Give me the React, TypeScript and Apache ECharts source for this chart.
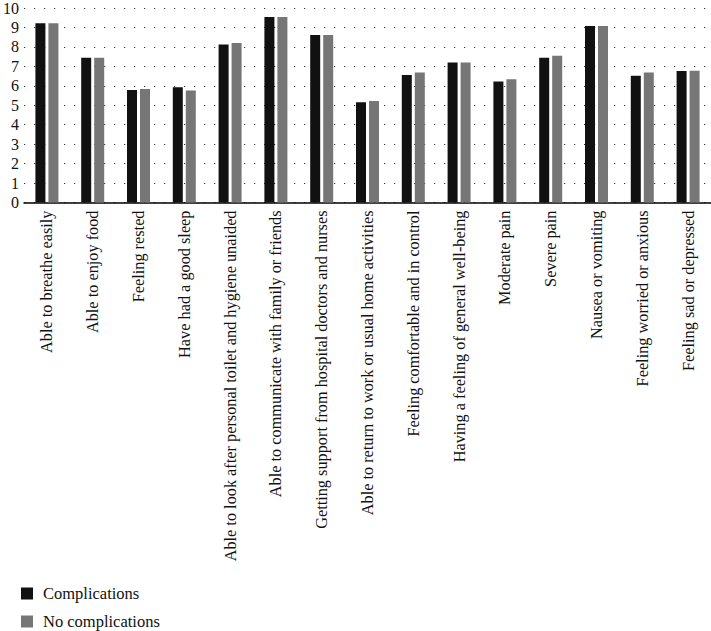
import React, { useEffect, useRef } from "react";
import * as echarts from "echarts";

const categories = [
  "Able to breathe easily",
  "Able to enjoy food",
  "Feeling rested",
  "Have had a good sleep",
  "Able to look after personal toilet and hygiene unaided",
  "Able to communicate with family or friends",
  "Getting support from hospital doctors and nurses",
  "Able to return to work or usual home activities",
  "Feeling comfortable and in control",
  "Having a feeling of general well-being",
  "Moderate pain",
  "Severe pain",
  "Nausea or vomiting",
  "Feeling worried or anxious",
  "Feeling sad or depressed",
];

const complications = [9.22, 7.44, 5.78, 5.93, 8.12, 9.54, 8.61, 5.15, 6.56, 7.2, 6.22, 7.44, 9.07, 6.52, 6.76];
const noComplications = [9.22, 7.44, 5.83, 5.76, 8.2, 9.54, 8.61, 5.22, 6.69, 7.2, 6.34, 7.54, 9.07, 6.68, 6.78];

const seriesNames = ["Complications", "No complications"];
const FONT = "Liberation Serif";

export default function App() {
  const ref = useRef<HTMLDivElement>(null);
  useEffect(() => {
    if (!ref.current) return;
    const chart = echarts.init(ref.current, undefined, { renderer: "svg" });
    chart.setOption({
      animation: false,
      backgroundColor: "#fff",
      textStyle: { fontFamily: FONT },
      grid: { left: 21, right: 0, top: 6, bottom: 428.5, containLabel: false },
      legend: {
        orient: "vertical",
        left: 21,
        top: 585,
        width: 200,
        height: 200,
        padding: 0,
        itemWidth: 12,
        itemHeight: 12,
        itemGap: 11,
        icon: "rect",
        textStyle: {
          fontFamily: FONT,
          fontSize: 16.5,
          lineHeight: 14,
          color: "#111",
          padding: [0, 0, 0, 5],
        },
        data: seriesNames,
      },
      xAxis: {
        type: "category",
        data: categories,
        axisLine: { show: true, lineStyle: { color: "#000", width: 1.5 } },
        axisTick: { show: false },
        axisLabel: {
          interval: 0,
          rotate: 90,
          margin: 8,
          fontFamily: FONT,
          fontSize: 16.3,
          color: "#111",
        },
      },
      yAxis: {
        type: "value",
        min: 0,
        max: 10,
        interval: 1,
        axisLine: { show: false },
        axisTick: { show: false },
        axisLabel: { margin: 5, fontFamily: FONT, fontSize: 16, color: "#111" },
        splitLine: {
          show: true,
          lineStyle: { color: "#333", width: 1.2, type: [1.2, 8.8] },
        },
      },
      series: [
        {
          name: seriesNames[0],
          type: "bar",
          data: complications,
          barWidth: 10,
          barGap: "30%",
          itemStyle: { color: "#111" },
        },
        {
          name: seriesNames[1],
          type: "bar",
          data: noComplications,
          barWidth: 10,
          itemStyle: { color: "#767676" },
        },
      ],
    });
    return () => chart.dispose();
  }, []);
  return (
    <div
      ref={ref}
      style={{ position: "fixed", left: 0, top: 0, width: 711, height: 631 }}
    />
  );
}
